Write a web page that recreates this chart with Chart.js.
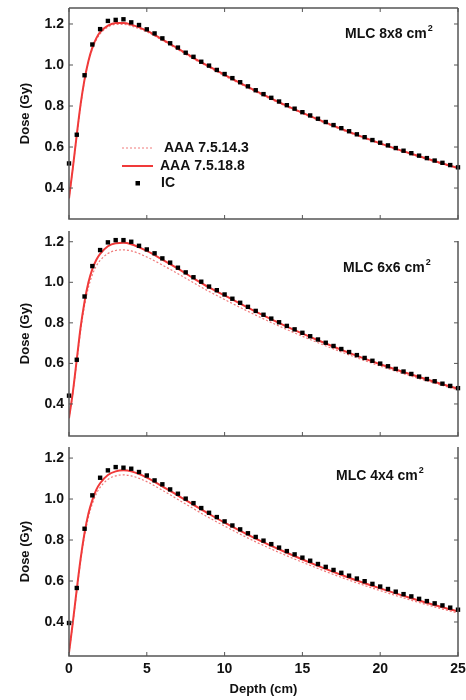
<!DOCTYPE html>
<html><head><meta charset="utf-8">
<script src="https://cdn.jsdelivr.net/npm/chart.js@4/dist/chart.umd.min.js"></script>
<style>
html,body{margin:0;padding:0;background:#fff;width:466px;height:700px;overflow:hidden}
.p{position:absolute;left:0;width:466px}
canvas{display:block}
</style></head><body>
<div class="p" style="top:0;height:230px"><canvas id="c1" width="466" height="230"></canvas></div>
<div class="p" style="top:222px;height:220px"><canvas id="c2" width="466" height="220"></canvas></div>
<div class="p" style="top:440px;height:260px"><canvas id="c3" width="466" height="260"></canvas></div>
<script>
// ---- data ----
const depthIC = [0,0.5,1,1.5,2,2.5,3,3.5,4,4.5,5,5.5,6,6.5,7,7.5,8,8.5,9,9.5,10,10.5,11,11.5,12,12.5,13,13.5,14,14.5,15,15.5,16,16.5,17,17.5,18,18.5,19,19.5,20,20.5,21,21.5,22,22.5,23,23.5,24,24.5,25];
const icMLC8 = [0.52,0.66,0.95,1.10,1.175,1.215,1.22,1.223,1.208,1.195,1.174,1.154,1.13,1.106,1.085,1.06,1.04,1.016,0.997,0.976,0.956,0.936,0.916,0.896,0.877,0.858,0.840,0.822,0.804,0.787,0.770,0.754,0.738,0.722,0.707,0.692,0.677,0.662,0.648,0.634,0.621,0.608,0.595,0.582,0.570,0.558,0.546,0.534,0.523,0.512,0.501];
const icMLC6 = [0.441,0.618,0.93,1.08,1.159,1.197,1.208,1.208,1.20,1.18,1.162,1.143,1.118,1.097,1.072,1.049,1.025,1.003,0.979,0.961,0.940,0.919,0.899,0.879,0.859,0.840,0.821,0.803,0.785,0.768,0.751,0.734,0.718,0.702,0.686,0.671,0.656,0.641,0.627,0.613,0.599,0.586,0.573,0.560,0.548,0.535,0.523,0.512,0.500,0.489,0.478];
const icMLC4 = [0.395,0.566,0.855,1.018,1.104,1.14,1.156,1.153,1.148,1.132,1.115,1.091,1.072,1.047,1.026,1.002,0.98,0.956,0.933,0.912,0.891,0.871,0.852,0.833,0.815,0.797,0.780,0.763,0.746,0.730,0.714,0.699,0.683,0.669,0.654,0.640,0.626,0.612,0.599,0.586,0.573,0.561,0.548,0.536,0.525,0.513,0.502,0.491,0.481,0.470,0.460];

const depthAAA = [0,0.25,0.5,0.75,1,1.25,1.5,1.75,2,2.5,3,3.5,4,5,6,7,8,9,10,12,14,16,18,20,22,24,25];
const aaa188_MLC8 = [0.35,0.50,0.66,0.81,0.93,1.02,1.085,1.13,1.16,1.192,1.205,1.205,1.197,1.168,1.125,1.08,1.035,0.993,0.952,0.874,0.801,0.735,0.674,0.618,0.567,0.520,0.498];
const aaa143_MLC8 = [0.35,0.50,0.655,0.805,0.925,1.015,1.078,1.122,1.152,1.185,1.198,1.198,1.19,1.162,1.12,1.075,1.03,0.988,0.947,0.869,0.797,0.731,0.670,0.615,0.564,0.517,0.495];
const aaa188_MLC6 = [0.33,0.46,0.62,0.78,0.905,1.0,1.065,1.11,1.14,1.178,1.193,1.195,1.188,1.155,1.112,1.067,1.02,0.975,0.935,0.855,0.781,0.714,0.652,0.596,0.545,0.497,0.475];
const aaa143_MLC6 = [0.33,0.455,0.61,0.765,0.885,0.975,1.037,1.08,1.108,1.142,1.157,1.16,1.155,1.125,1.085,1.042,0.998,0.955,0.915,0.838,0.767,0.702,0.642,0.587,0.537,0.491,0.469];
const aaa188_MLC4 = [0.25,0.40,0.56,0.71,0.835,0.93,0.995,1.045,1.077,1.117,1.135,1.14,1.135,1.105,1.062,1.017,0.972,0.927,0.885,0.807,0.738,0.674,0.616,0.564,0.516,0.472,0.452];
const aaa143_MLC4 = [0.25,0.395,0.55,0.70,0.82,0.912,0.977,1.025,1.057,1.096,1.113,1.118,1.113,1.085,1.043,0.998,0.953,0.909,0.868,0.791,0.723,0.661,0.604,0.553,0.506,0.463,0.443];

const yTicks = [0.4,0.6,0.8,1.0,1.2];
const xTicks = [0,5,10,15,20,25];
const seriesNames = ['AAA 7.5.14.3','AAA 7.5.18.8','IC'];
const panelLabels = ['MLC 8x8 cm','MLC 6x6 cm','MLC 4x4 cm'];

// ---- styling ----
const FONT = 'Liberation Sans, Arial, Helvetica, sans-serif';
const RED = '#f03a3a';
const PINK = '#f07a7a';
const FRAME = '#555';

const zip = (xs, ys) => xs.map((x, i) => ({x, y: ys[i]}));

const framePlugin = {
  id: 'frame',
  afterDraw(chart, args, o) {
    const {ctx, chartArea: a, scales: {x, y}} = chart;
    ctx.save();
    ctx.strokeStyle = FRAME;
    ctx.lineWidth = 1.5;
    ctx.beginPath();
    ctx.moveTo(a.left, a.top); ctx.lineTo(a.left, a.bottom);
    ctx.lineTo(a.right, a.bottom); ctx.lineTo(a.right, o.rightTop != null ? o.rightTop : a.top);
    if (o.top) { ctx.moveTo(a.left, a.top); ctx.lineTo(a.right, a.top); }
    ctx.stroke();
    ctx.lineWidth = 1;
    ctx.beginPath();
    yTicks.forEach(v => {
      const py = y.getPixelForValue(v);
      ctx.moveTo(a.left, py); ctx.lineTo(a.left + 4, py);
      ctx.moveTo(a.right, py); ctx.lineTo(a.right - 4, py);
    });
    xTicks.forEach(v => {
      const px = x.getPixelForValue(v);
      ctx.moveTo(px, a.bottom); ctx.lineTo(px, a.bottom - 4);
      if (o.top) { ctx.moveTo(px, a.top); ctx.lineTo(px, a.top + 4); }
    });
    ctx.stroke();
    // panel label with superscript
    ctx.fillStyle = '#111';
    ctx.font = 'bold 14px ' + FONT;
    ctx.textBaseline = 'alphabetic';
    ctx.textAlign = 'left';
    ctx.fillText(o.label, o.lx, o.ly);
    const w = ctx.measureText(o.label).width;
    ctx.font = 'bold 9px ' + FONT;
    ctx.fillText('2', o.lx + w + 1, o.ly - 7);
    // legend
    if (o.legend) {
      const L = o.legend;
      ctx.font = 'bold 14px ' + FONT;
      ctx.strokeStyle = PINK; ctx.lineWidth = 1; ctx.setLineDash([2, 2]);
      ctx.beginPath(); ctx.moveTo(L.x0, L.y[0]); ctx.lineTo(L.x1, L.y[0]); ctx.stroke();
      ctx.setLineDash([]);
      ctx.strokeStyle = RED; ctx.lineWidth = 2;
      ctx.beginPath(); ctx.moveTo(L.x0, L.y[1]); ctx.lineTo(L.x1, L.y[1]); ctx.stroke();
      ctx.fillStyle = '#000';
      ctx.fillRect((L.x0 + L.x1) / 2 - 2, L.y[2] - 2, 4.5, 4.5);
      ctx.fillStyle = '#111';
      ctx.textBaseline = 'middle';
      ctx.fillText(seriesNames[0], L.tx[0], L.y[0]);
      ctx.fillText(seriesNames[1], L.tx[1], L.y[1]);
      ctx.fillText(seriesNames[2], L.tx[2], L.y[2]);
    }
    ctx.restore();
  }
};

function makePanel(id, ic, solid, dotted, yMin, yMax, pad, frameOpts, showX, xHeight) {
  const tickFont = {family: FONT, size: 14, weight: 'bold'};
  return new Chart(document.getElementById(id), {
    type: 'line',
    data: {
      datasets: [
        {label: seriesNames[2], data: zip(depthIC, ic), showLine: false, pointStyle: 'rect',
         pointRadius: 3.1, backgroundColor: '#000', borderColor: '#000', borderWidth: 0, order: 0, clip: false},
        {label: seriesNames[1], data: zip(depthAAA, solid), borderColor: RED, borderWidth: 2,
         pointRadius: 0, cubicInterpolationMode: 'monotone', order: 1},
        {label: seriesNames[0], data: zip(depthAAA, dotted), borderColor: PINK, borderWidth: 1.2,
         borderDash: [2, 2], pointRadius: 0, cubicInterpolationMode: 'monotone', order: 2}
      ]
    },
    options: {
      responsive: false, animation: false, devicePixelRatio: 1,
      layout: {padding: pad},
      plugins: {legend: {display: false}, tooltip: {enabled: false}, frame: frameOpts},
      scales: {
        x: {
          type: 'linear', min: 0, max: 25, display: showX,
          grid: {display: false, drawTicks: false}, border: {display: false},
          afterBuildTicks: s => { s.ticks = xTicks.map(v => ({value: v})); },
          ticks: {font: tickFont, color: '#111', padding: 5, maxRotation: 0, callback: v => String(v)},
          title: {display: showX, text: 'Depth (cm)', font: {family: FONT, size: 13, weight: 'bold'}, color: '#111', padding: {top: 0, bottom: 3}},
          afterFit: s => { s.height = xHeight || 0; s.paddingLeft = 0; s.paddingRight = 0; }
        },
        y: {
          type: 'linear', min: yMin, max: yMax,
          grid: {display: false, drawTicks: false}, border: {display: false},
          afterBuildTicks: s => { s.ticks = yTicks.map(v => ({value: v})); },
          ticks: {font: tickFont, color: '#111', padding: 5, callback: v => v.toFixed(1)},
          title: {display: true, text: 'Dose (Gy)', font: {family: FONT, size: 13, weight: 'bold'}, color: '#111', padding: {top: 18, bottom: 0}},
          afterFit: s => { s.width = 69; s.paddingTop = 0; s.paddingBottom = 0; }
        }
      }
    },
    plugins: [framePlugin]
  });
}

makePanel('c1', icMLC8, aaa188_MLC8, aaa143_MLC8, 0.249, 1.278,
  {left: 0, right: 8, top: 8, bottom: 11},
  {top: true, label: panelLabels[0], lx: 345, ly: 38,
   legend: {x0: 122, x1: 153, y: [148, 166, 183], tx: [164, 160, 161]}}, false, 0);

makePanel('c2', icMLC6, aaa188_MLC6, aaa143_MLC6, 0.242, 1.253,
  {left: 0, right: 8, top: 9, bottom: 6},
  {top: false, rightTop: 19, label: panelLabels[1], lx: 343, ly: 50}, false, 0);

makePanel('c3', icMLC4, aaa188_MLC4, aaa143_MLC4, 0.234, 1.254,
  {left: 0, right: 8, top: 7, bottom: 0},
  {top: false, label: panelLabels[2], lx: 336, ly: 40}, true, 44);
</script>
</body></html>
